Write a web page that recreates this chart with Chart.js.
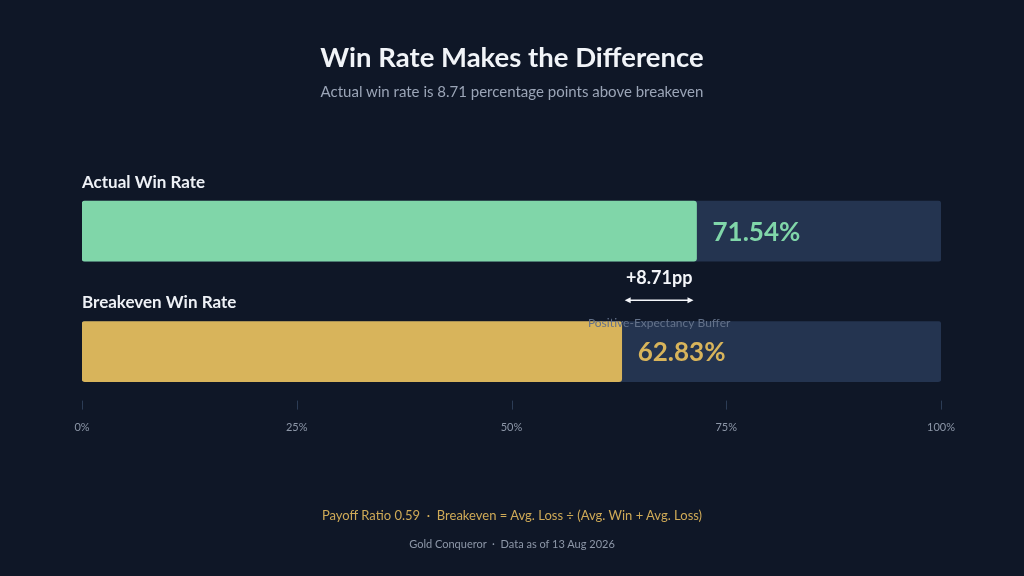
<!DOCTYPE html>
<html>
<head>
<meta charset="utf-8">
<script src="https://cdn.jsdelivr.net/npm/chart.js@4.4.1/dist/chart.umd.min.js"></script>
<style>
  html, body { margin:0; padding:0; background:#0f1727; }
  #wrap { position:relative; width:1024px; height:576px; overflow:hidden; background:#0f1727; font-family:Lato, "Noto Sans", sans-serif; }
  #c { position:absolute; left:0; top:0; }
  .t { position:absolute; left:0; width:1024px; text-align:center; white-space:nowrap; }
  #title { top:38px; font-size:27.5px; font-weight:700; color:#f1f4f8; line-height:38px; }
  #sub { top:80px; font-size:15px; color:#9ba5b7; line-height:22px; }
  #foot1 { top:505px; font-size:13px; color:#cfaa57; line-height:20px; }
  #foot2 { top:535px; font-size:11px; color:#8d97a8; line-height:18px; }
</style>
</head>
<body>
<div id="wrap">
  <canvas id="c" width="1024" height="576"></canvas>
  <div class="t" id="title">Win Rate Makes the Difference</div>
  <div class="t" id="sub">Actual win rate is 8.71 percentage points above breakeven</div>
  <div class="t" id="foot1">Payoff Ratio 0.59 &nbsp;·&nbsp; Breakeven = Avg. Loss ÷ (Avg. Win + Avg. Loss)</div>
  <div class="t" id="foot2">Gold Conqueror &nbsp;·&nbsp; Data as of 13 Aug 2026</div>
</div>
<script>
const categories = ['Actual Win Rate', 'Breakeven Win Rate'];
const values = [71.54, 62.83];
const trackValues = [100, 100];
const barColors = ['#80d6a9', '#d8b45b'];
const tickValues = [0, 25, 50, 75, 100];
const gapLabel = '+8.71pp';
const gapCaption = 'Positive-Expectancy Buffer';

const FONT = 'Lato, "Noto Sans", sans-serif';

const overlay = {
  id: 'overlay',
  afterDatasetsDraw(chart) {
    const ctx = chart.ctx;
    const xs = chart.scales.x;
    const meta = chart.getDatasetMeta(0);
    ctx.save();
    meta.data.forEach((bar, i) => {
      const top = bar.y - bar.height / 2;
      ctx.font = '700 17px ' + FONT;
      ctx.fillStyle = '#eef1f6';
      ctx.textAlign = 'left';
      ctx.textBaseline = 'middle';
      ctx.fillText(categories[i], xs.left, top - 19);
      ctx.font = '700 26px ' + FONT;
      ctx.fillStyle = barColors[i];
      ctx.fillText(values[i].toFixed(2) + '%', xs.getPixelForValue(values[i]) + 16, bar.y + 1);
    });
    const x1 = xs.getPixelForValue(values[1]);
    const x2 = xs.getPixelForValue(values[0]);
    const b0 = meta.data[0], b1 = meta.data[1];
    const bottom0 = b0.y + b0.height / 2;
    const top1 = b1.y - b1.height / 2;
    const mid = (x1 + x2) / 2;
    ctx.fillStyle = '#f4f6fa';
    ctx.textAlign = 'center';
    ctx.font = '700 18px ' + FONT;
    ctx.fillText(gapLabel, mid, bottom0 + 17);
    const ay = bottom0 + 39;
    const ax1 = x1 + 3, ax2 = x2 - 3;
    ctx.strokeStyle = '#f4f6fa';
    ctx.lineWidth = 1.5;
    ctx.beginPath();
    ctx.moveTo(ax1 + 4, ay); ctx.lineTo(ax2 - 4, ay); ctx.stroke();
    ctx.beginPath();
    ctx.moveTo(ax1, ay); ctx.lineTo(ax1 + 6, ay - 3); ctx.lineTo(ax1 + 6, ay + 3); ctx.closePath(); ctx.fill();
    ctx.beginPath();
    ctx.moveTo(ax2, ay); ctx.lineTo(ax2 - 6, ay - 3); ctx.lineTo(ax2 - 6, ay + 3); ctx.closePath(); ctx.fill();
    ctx.font = '400 12px ' + FONT;
    ctx.fillStyle = '#64728a';
    ctx.fillText(gapCaption, mid, top1 + 2);
    const bottom1 = b1.y + b1.height / 2;
    ctx.strokeStyle = '#2c3c55';
    ctx.lineWidth = 1;
    tickValues.forEach(v => {
      const x = Math.round(xs.getPixelForValue(v)) + 0.5;
      ctx.beginPath();
      ctx.moveTo(x, bottom1 + 19);
      ctx.lineTo(x, bottom1 + 28);
      ctx.stroke();
    });
    ctx.restore();
  }
};

new Chart(document.getElementById('c'), {
  type: 'bar',
  data: {
    labels: categories,
    datasets: [
      { data: values, backgroundColor: barColors, barThickness: 60, borderRadius: 3, borderSkipped: false, grouped: false, order: 1 },
      { data: trackValues, backgroundColor: '#243450', barThickness: 60, borderRadius: 3, borderSkipped: false, grouped: false, order: 2 }
    ]
  },
  options: {
    indexAxis: 'y',
    responsive: false,
    animation: false,
    events: [],
    layout: { padding: { left: 82, right: 83, top: 171, bottom: 133 } },
    plugins: { legend: { display: false }, tooltip: { enabled: false }, title: { display: false } },
    scales: {
      y: { display: false },
      x: {
        min: 0, max: 100,
        border: { display: false },
        grid: { display: false, drawTicks: false },
        afterBuildTicks(scale) { scale.ticks = tickValues.map(v => ({ value: v })); },
        ticks: {
          padding: 9,
          color: '#8d97a8',
          font: { family: FONT, size: 11 },
          maxRotation: 0,
          autoSkip: false,
          callback: v => v + '%'
        }
      }
    }
  },
  plugins: [overlay]
});
</script>
</body>
</html>
